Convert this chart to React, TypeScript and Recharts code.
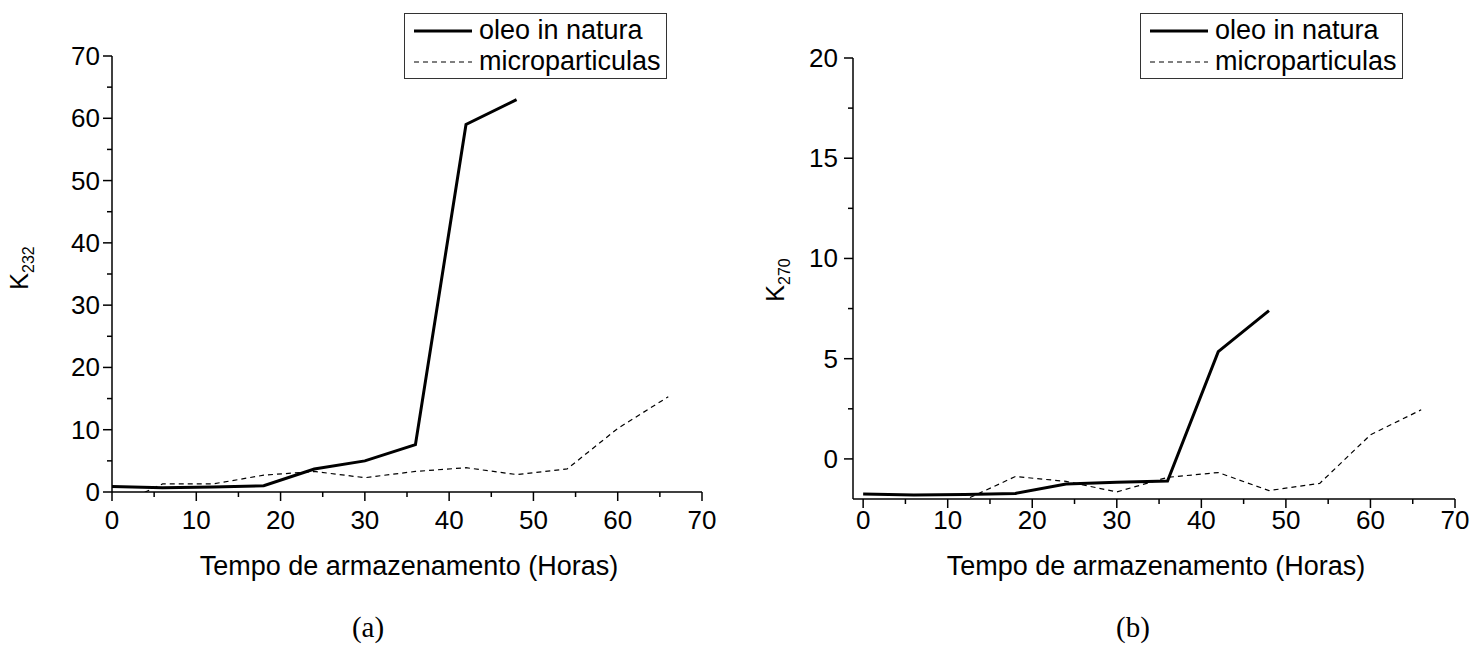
import { LineChart, Line, XAxis, YAxis, Legend } from "recharts";

// tempo de armazenamento (horas)
const horas = [0, 6, 12, 18, 24, 30, 36, 42, 48, 54, 60, 66];

// (a) K232
const k232Oleo = [0.9, 0.7, 0.8, 1.0, 3.7, 5.0, 7.6, 59, 63];
const k232Micro = [-2.5, 1.3, 1.3, 2.7, 3.3, 2.3, 3.3, 3.9, 2.8, 3.7, 10.2, 15.3];

// (b) K270
const k270Oleo = [-1.75, -1.8, -1.78, -1.72, -1.25, -1.17, -1.1, 5.35, 7.4];
const k270Micro = [-2.6, -2.4, -2.05, -0.88, -1.12, -1.65, -0.92, -0.68, -1.58, -1.22, 1.2, 2.45];

const xTicks = [0, 5, 10, 15, 20, 25, 30, 35, 40, 45, 50, 55, 60, 65, 70];
const yTicksA = [0, 5, 10, 15, 20, 25, 30, 35, 40, 45, 50, 55, 60, 65, 70];
const yTicksB = [0, 2.5, 5, 7.5, 10, 12.5, 15, 17.5, 20];

const ordemLegenda = ["oleo in natura", "microparticulas"];

const FONT = "'Liberation Sans', Arial, sans-serif";
const FS = 26;

const build = (oleo: number[], micro: number[]) =>
  horas.map((t, i) => ({ t, oleo: oleo[i], micro: micro[i] }));

const dadosA = build(k232Oleo, k232Micro);
const dadosB = build(k270Oleo, k270Micro);

const makeXTick = (dy: number) => (props: any) => {
  const { x, y, payload } = props;
  const major = payload.value % 10 === 0;
  return (
    <g>
      <line x1={x} x2={x} y1={y} y2={y + (major ? 9 : 5)} stroke="#000" strokeWidth={1.5} />
      {major && (
        <text x={x} y={y + dy} textAnchor="middle" fontSize={FS} fontFamily={FONT} fill="#000">
          {payload.value}
        </text>
      )}
    </g>
  );
};

const makeYTick = (step: number, gap: number) => (props: any) => {
  const { x, y, payload } = props;
  const major = payload.value % step === 0;
  return (
    <g>
      <line x1={x - (major ? 9 : 5)} x2={x} y1={y} y2={y} stroke="#000" strokeWidth={1.5} />
      {major && (
        <text x={x - gap} y={y + 9} textAnchor="end" fontSize={FS} fontFamily={FONT} fill="#000">
          {payload.value}
        </text>
      )}
    </g>
  );
};

const LegendBox = (props: any) => {
  const itens = [...(props.payload || [])].sort(
    (a: any, b: any) => ordemLegenda.indexOf(a.value) - ordemLegenda.indexOf(b.value)
  );
  return (
    <div
      style={{
        border: "1px solid #333",
        background: "#fff",
        padding: "1px 5px 1px 9px",
        fontFamily: FONT,
        fontSize: 27,
        lineHeight: "31px",
        color: "#000",
        textAlign: "left",
      }}
    >
      {itens.map((p: any) => (
        <div key={p.value} style={{ display: "flex", alignItems: "center", whiteSpace: "nowrap" }}>
          <svg width={58} height={10} style={{ marginRight: 7 }}>
            <line
              x1={0}
              x2={58}
              y1={5}
              y2={5}
              stroke="#000"
              strokeWidth={p.payload.strokeWidth}
              strokeDasharray={p.payload.strokeDasharray}
            />
          </svg>
          {p.value}
        </div>
      ))}
    </div>
  );
};

function Painel({
  dados,
  dominioX,
  dominioY,
  yTicks,
  passoY,
  legendaLeft,
  topo,
  base,
  direita,
  dyX,
  gapY,
}: {
  dados: any[];
  dominioX: [number, number];
  dominioY: [number, number];
  yTicks: number[];
  passoY: number;
  legendaLeft: number;
  topo: number;
  base: number;
  direita: number;
  dyX: number;
  gapY: number;
}) {
  return (
    <LineChart
      width={740}
      height={645}
      data={dados}
      margin={{ top: topo, right: direita, bottom: base, left: 111 }}
    >
      <XAxis
        type="number"
        dataKey="t"
        domain={dominioX}
        ticks={xTicks}
        interval={0}
        height={1}
        tickSize={0}
        tickMargin={0}
        tickLine={false}
        tick={makeXTick(dyX)}
        axisLine={{ stroke: "#000", strokeWidth: 1.5 }}
        allowDataOverflow
      />
      <YAxis
        type="number"
        domain={dominioY}
        ticks={yTicks}
        interval={0}
        width={1}
        tickSize={0}
        tickMargin={0}
        tickLine={false}
        tick={makeYTick(passoY, gapY)}
        axisLine={{ stroke: "#000", strokeWidth: 1.5 }}
        allowDataOverflow
      />
      <Legend
        layout="horizontal"
        verticalAlign="middle"
        align="center"
        wrapperStyle={{ top: 13, left: legendaLeft, width: "auto" }}
        content={<LegendBox />}
      />
      <Line
        dataKey="oleo"
        name="oleo in natura"
        stroke="#000"
        strokeWidth={3}
        dot={false}
        type="linear"
        isAnimationActive={false}
      />
      <Line
        dataKey="micro"
        name="microparticulas"
        stroke="#000"
        strokeWidth={1.2}
        strokeDasharray="5 4"
        dot={false}
        type="linear"
        isAnimationActive={false}
      />
    </LineChart>
  );
}

const rotulo = (left: number, top: number, sub: string) => (
  <div
    style={{
      position: "absolute",
      left,
      top,
      transform: "translate(-50%, -50%) rotate(-90deg)",
      fontFamily: FONT,
      fontSize: 25,
      lineHeight: 1,
      whiteSpace: "nowrap",
    }}
  >
    K<sub style={{ fontSize: 16 }}>{sub}</sub>
  </div>
);

const texto = (left: number, top: number, s: string, serif = false) => (
  <div
    style={{
      position: "absolute",
      left,
      top,
      transform: "translate(-50%, -50%)",
      fontFamily: serif ? "'Liberation Serif', 'Times New Roman', serif" : FONT,
      fontSize: serif ? 29 : 27,
      lineHeight: 1,
      whiteSpace: "nowrap",
    }}
  >
    {s}
  </div>
);

export default function App() {
  return (
    <div
      style={{
        position: "absolute",
        left: 0,
        top: 0,
        width: 1483,
        height: 645,
        background: "#fff",
        overflow: "hidden",
      }}
    >
      <div style={{ position: "absolute", left: 0, top: 0 }}>
        <Painel
          dados={dadosA}
          dominioX={[0, 70]}
          dominioY={[0, 70]}
          yTicks={yTicksA}
          passoY={10}
          legendaLeft={404}
          topo={56}
          base={152}
          direita={38}
          dyX={37}
          gapY={12}
        />
      </div>
      <div style={{ position: "absolute", left: 741, top: 0 }}>
        <Painel
          dados={dadosB}
          dominioX={[-1.2, 70]}
          dominioY={[-2, 20]}
          yTicks={yTicksB}
          passoY={5}
          legendaLeft={399}
          topo={58}
          base={145}
          direita={26}
          dyX={30}
          gapY={15}
        />
      </div>
      {rotulo(22, 268, "232")}
      {rotulo(778, 280, "270")}
      {texto(409, 566, "Tempo de armazenamento (Horas)")}
      {texto(1156, 566, "Tempo de armazenamento (Horas)")}
      {texto(368, 627, "(a)", true)}
      {texto(1133, 627, "(b)", true)}
    </div>
  );
}
